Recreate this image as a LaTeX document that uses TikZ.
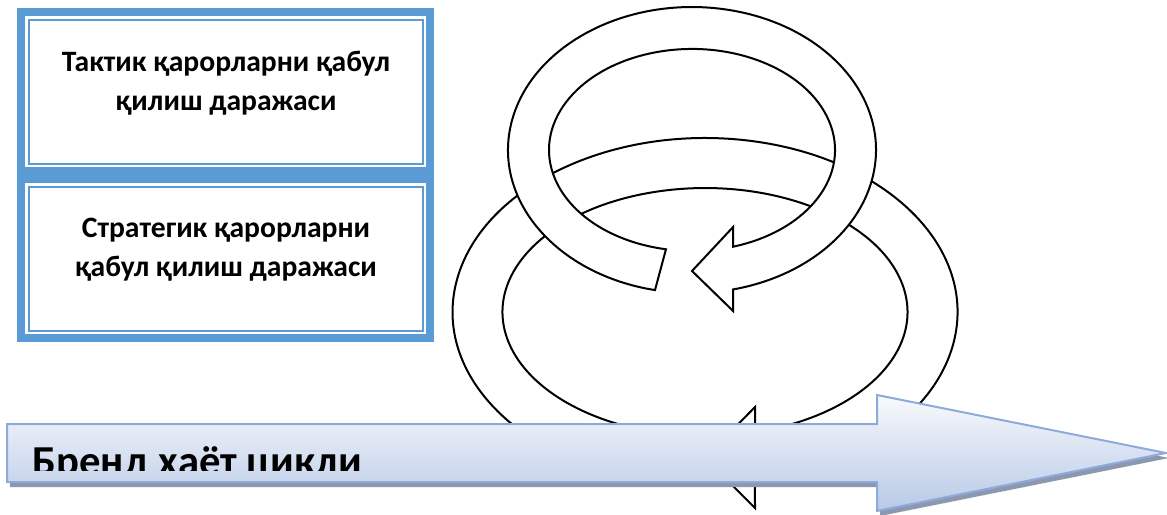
\documentclass[tikz,border=0pt]{standalone}
\usepackage{fontspec}
\setmainfont{Carlito}
\usepackage{tikz}
\usetikzlibrary{positioning}

\definecolor{frameblue}{RGB}{91,155,213}
\definecolor{arrowedge}{RGB}{142,170,219}
\definecolor{arrowtop}{RGB}{248,250,253}
\definecolor{arrowbot}{RGB}{184,201,230}
\definecolor{shadowgray}{RGB}{140,152,174}

\begin{document}
\begin{tikzpicture}[
  x=0.75pt, y=-0.75pt,
  ring/.style={draw=black, line width=1.5pt, fill=white, line join=miter},
  thickframe/.style={draw=frameblue, line width=6pt},
  thinframe/.style={draw=frameblue, line width=1.5pt},
  lvltext/.style={font=\bfseries\fontsize{22.2}{29.25}\selectfont, align=center, anchor=base},
  brandarrow/.style={draw=arrowedge, line width=1.5pt, top color=arrowtop, bottom color=arrowbot},
]
\useasboundingbox (0,0) rectangle (1167,514);

% Left panel: two levels of decisions
\draw[thickframe] (21,12) rectangle (430,171);
\draw[thinframe] (28.5,19.5) rectangle (422.5,163.5);
\draw[thickframe] (21,179) rectangle (430,338);
\draw[thinframe] (28.5,186.5) rectangle (422.5,330.5);
% (base anchor sits on the last line)
\node[lvltext] (tact) at (226,110) {Тактик қарорларни қабул\\қилиш даражаси};
\node[lvltext] (strat) at (226,276) {Стратегик қарорларни\\қабул қилиш даражаси};

% Lower (large) circular arrow
\draw[ring] (659.9,483.2)
  arc[start angle=100.3, end angle=438.6, x radius=252.5, y radius=174]
  -- (755,508) -- (705,458) -- (755,407) -- (755,432.2)
  arc[start angle=435.7, end angle=99.5, x radius=202.5, y radius=124]
  -- cycle;

% Upper (small) circular arrow
\draw[ring] (655,290.1)
  arc[start angle=101.6, end angle=437.1, x radius=184, y radius=143]
  -- (733.1,311) -- (692,271) -- (733.1,227) -- (733.1,246.7)
  arc[start angle=433.3, end angle=100.5, x radius=143, y radius=101]
  -- cycle;

% Brand life cycle arrow
\fill[shadowgray] (10,429) -- (880,429) -- (880,400) -- (1169,458)
  -- (880,516) -- (880,487) -- (10,487) -- cycle;
\draw[brandarrow] (7,424) -- (877,424) -- (877,395) -- (1166,453)
  -- (877,511) -- (877,482) -- (7,482) -- cycle;
\begin{scope}
  \clip (7,424) rectangle (877,470);
  \node[font=\bfseries\fontsize{32}{38}\selectfont, anchor=base west] (cycle) at (28,475) {Бренд хаёт цикли};
\end{scope}
\end{tikzpicture}
\end{document}
